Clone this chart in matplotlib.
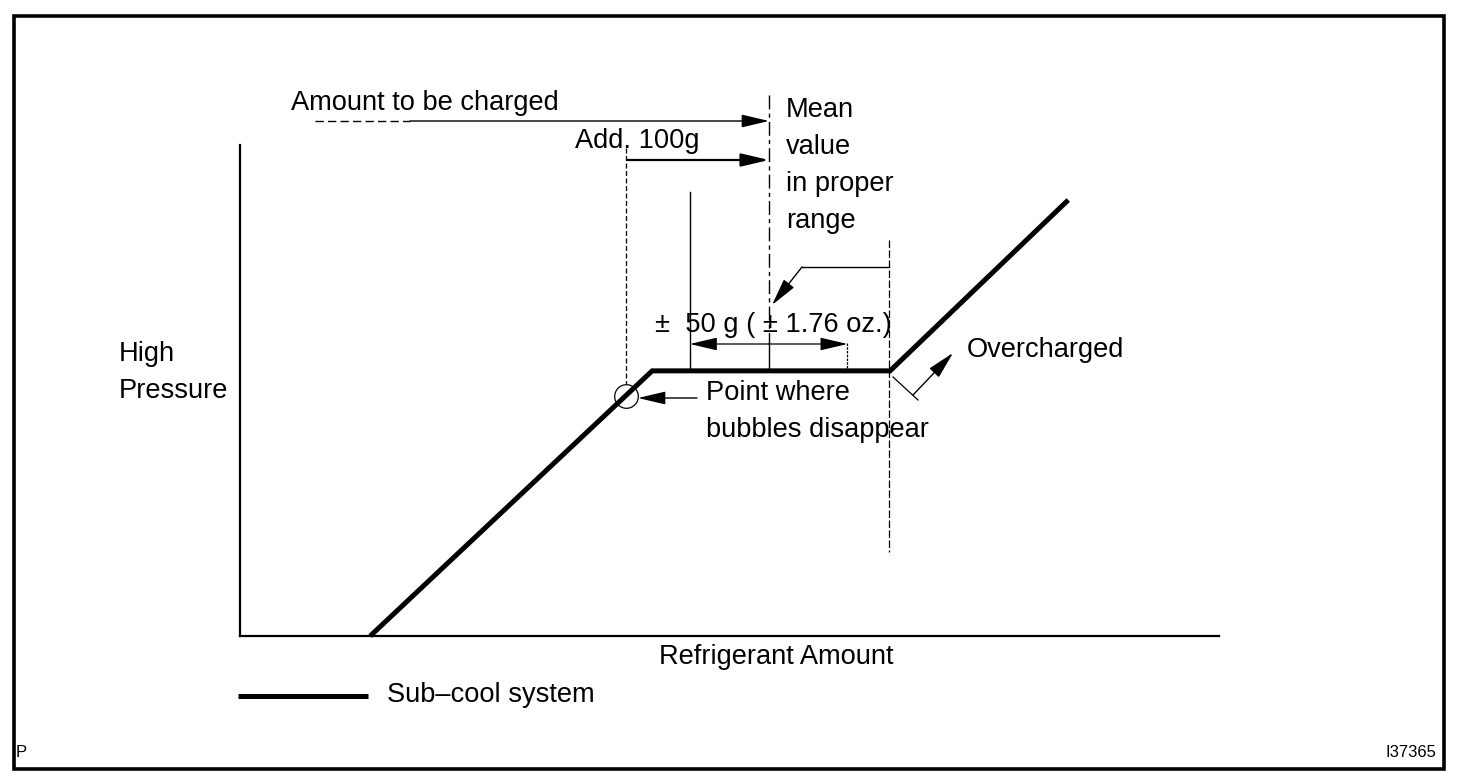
import matplotlib.pyplot as plt
from matplotlib.patches import Rectangle

# curve values, in axis units (0-100 on each axis)
charge = [13.3, 42.1, 66.4, 84.6]
pressure = [0.0, 54.0, 54.0, 88.8]
bubble_charge = 39.4
bubble_pressure = 48.9
mean_charge = 54.0
tolerance = 8.05
overcharge_charge = 66.3

W, H = 1472, 782
L, R, B, T = 240, 1219, 636, 145  # plot area in pixels


def yv(ypx):
    # pixel row -> pressure units of the plot axes
    return (B - ypx) / (B - T) * 100


plt.rcParams['font.family'] = ['Liberation Sans', 'DejaVu Sans']
FS = 19.6

fig = plt.figure(figsize=(W / 100, H / 100), dpi=100)
ax = fig.add_axes([L / W, 1 - B / H, (R - L) / W, (B - T) / H])
ax.set_xlim(0, 100)
ax.set_ylim(0, 100)
ax.spines['top'].set_visible(False)
ax.spines['right'].set_visible(False)
ax.spines['left'].set_linewidth(1.6)
ax.spines['bottom'].set_linewidth(1.6)
ax.set_xticks([])
ax.set_yticks([])
ax.patch.set_alpha(0)

ov = fig.add_axes([0, 0, 1, 1])
ov.set_xlim(0, W)
ov.set_ylim(H, 0)
ov.set_axis_off()

# main curve
ax.plot(charge, pressure, color='black', lw=3.6, solid_joinstyle='miter',
        solid_capstyle='butt', clip_on=False, zorder=5)
ax.plot([bubble_charge], [bubble_pressure], 'o', ms=17, mfc='none', mec='black',
        mew=0.9, clip_on=False, zorder=6)

kw = dict(color='black', clip_on=False)
# reference lines
ax.plot([bubble_charge] * 2, [yv(148), yv(384)], lw=0.9, dashes=(4, 2), **kw)
ax.plot([mean_charge] * 2, [yv(95), yv(343)], lw=1.0, dashes=(10, 3, 3, 3), **kw)
ax.plot([mean_charge] * 2, [yv(343), yv(371)], lw=1.0, **kw)
ax.plot([mean_charge - tolerance] * 2, [yv(192), yv(371)], lw=1.0, **kw)
ax.plot([mean_charge + tolerance] * 2, [yv(343), yv(371)], lw=0.9, dashes=(2, 1), **kw)
ax.plot([overcharge_charge] * 2, [yv(240), yv(552)], lw=0.9, dashes=(6, 2), **kw)

head = '-|>,head_length=1.7,head_width=0.4'
for side in (-1, 1):
    ax.annotate('', xy=(mean_charge + side * tolerance, yv(344)),
                xytext=(mean_charge, yv(344)), annotation_clip=False,
                arrowprops=dict(arrowstyle=head, color='black', lw=0.9,
                                shrinkA=0, shrinkB=0))


def arrow(x0, y0, x1, y1, lw=0.9):
    ov.annotate('', xy=(x1, y1), xytext=(x0, y0),
                arrowprops=dict(arrowstyle=head, color='black', lw=lw,
                                shrinkA=0, shrinkB=0))


# amount to be charged
ov.plot([315, 410], [121, 121], color='black', lw=1.0, dashes=(6, 3))
arrow(410, 121, 769, 121, lw=1.0)
# add 100 g
arrow(627, 160, 769, 160, lw=1.6)
# leader to mean value
ov.plot([889, 802], [267, 267], color='black', lw=1.0)
arrow(802, 267, 772, 305, lw=1.0)
# bubble point
arrow(697, 398, 638, 398, lw=1.0)
# overcharged
ov.plot([893, 918], [377, 400], color='black', lw=0.9)
arrow(913, 395, 953, 353, lw=1.0)

# legend
ov.plot([238, 368], [696, 696], color='black', lw=3.6, solid_capstyle='butt')

# border
ov.add_patch(Rectangle((14, 16), 1430, 753, fill=False, lw=2.6, ec='black'))


def txt(x, y, s, **k):
    ov.text(x, y, s, fontsize=k.pop('fs', FS), va='baseline', **k)


txt(291, 110, 'Amount to be charged')
txt(575, 148, 'Add. 100g')
for i, line in enumerate(['Mean', 'value', 'in proper', 'range']):
    txt(786, 117 + 37 * i, line)
txt(655, 332, '±  50 g ( ± 1.76 oz.)')
txt(119, 361, 'High')
txt(119, 398, 'Pressure')
txt(706, 400, 'Point where')
txt(706, 437, 'bubbles disappear')
txt(967, 357, 'Overcharged')
txt(776, 664, 'Refrigerant Amount', ha='center')
txt(387, 702, 'Sub–cool system')
txt(16, 757, 'P', fs=12)
txt(1436, 757, 'I37365', fs=12, ha='right')

fig.savefig('out.png', dpi=100)
